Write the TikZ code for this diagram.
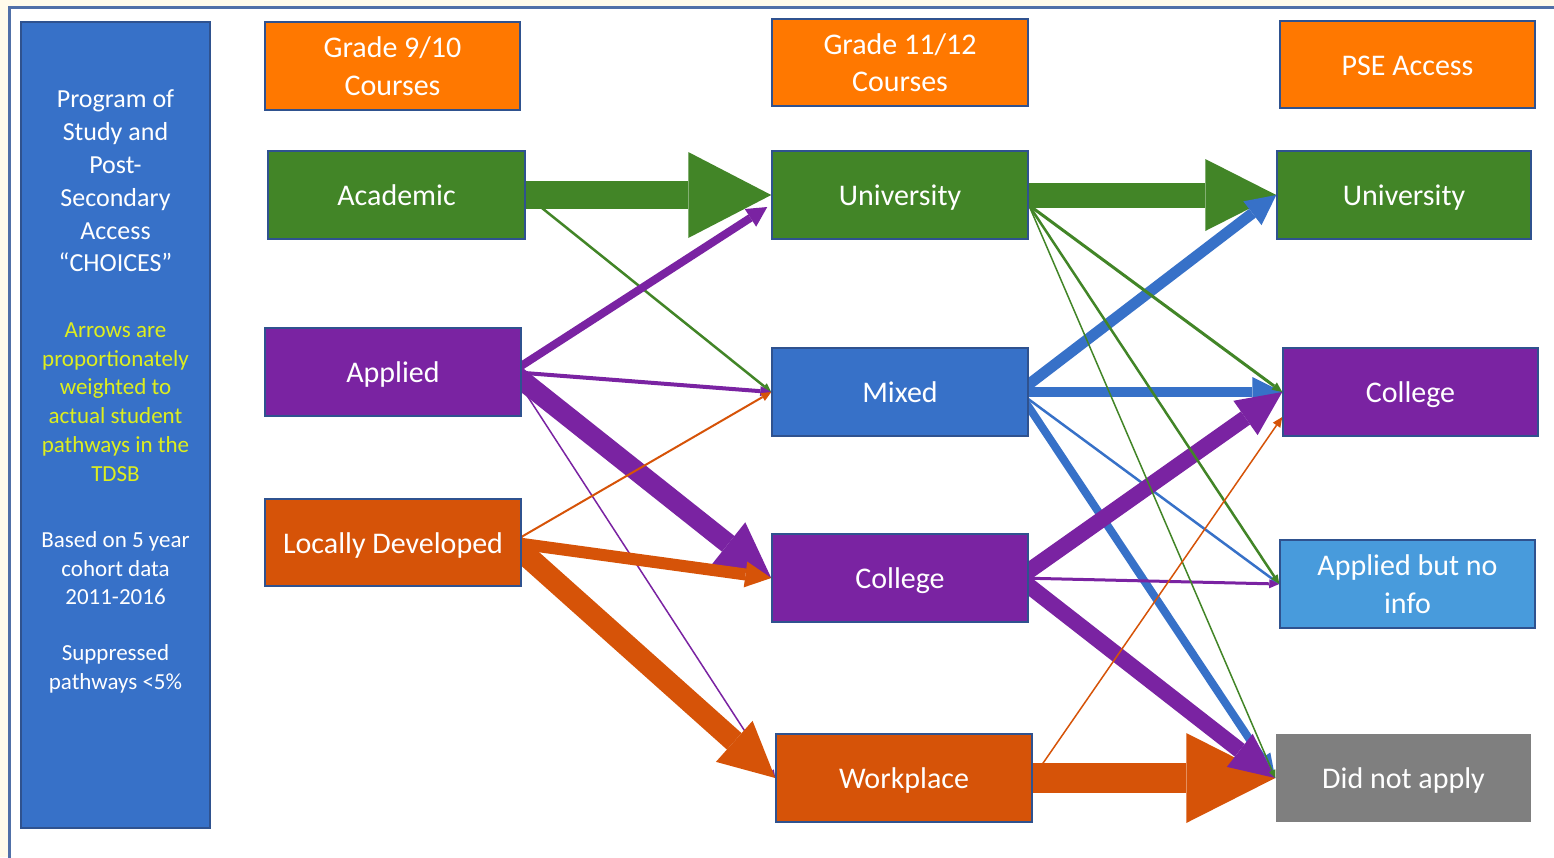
\documentclass[tikz,border=0pt]{standalone}
\usepackage{fontspec}
\setmainfont{Carlito}
\usetikzlibrary{arrows.meta}
\definecolor{hdr}{RGB}{255,120,0}
\definecolor{grn}{RGB}{66,133,39}
\definecolor{prp}{RGB}{122,35,162}
\definecolor{blu}{RGB}{55,113,200}
\definecolor{org}{RGB}{214,83,8}
\definecolor{lblu}{RGB}{72,155,220}
\definecolor{gry}{RGB}{127,127,127}
\definecolor{bord}{RGB}{47,82,143}
\definecolor{cream}{RGB}{255,251,235}
\definecolor{framec}{RGB}{80,112,168}
\definecolor{yel}{RGB}{222,238,30}
\newcommand{\boxstrutx}{\rule[-7.4pt]{0pt}{36pt}}
\pgfdeclarelayer{back}
\pgfdeclarelayer{bg}
\pgfsetlayers{back,bg,main}
\begin{document}
\begin{tikzpicture}[x=1pt,y=-1pt,
  box/.style={draw=bord,line width=1.5pt,minimum width=256pt,minimum height=88pt,inner sep=0pt,text=white,align=center,font=\fontsize{30}{37.5}\selectfont,execute at end node={\boxstrutx}},
  ptxt/.style={inner sep=0pt,align=center,text=white},
  ar/.style n args={4}{draw=#1,line width=#2,-{Triangle[length=#3,width=#4,line width=0pt]}},
]
\useasboundingbox (0,0) rectangle (1554,857);
\begin{pgfonlayer}{back}
\fill[cream] (0,0) rectangle (1554,857);
\draw[framec,line width=3.5pt,fill=white] (9.5,7.5) rectangle (1600,900);
\end{pgfonlayer}

% left panel
\node[box,fill=blu,minimum width=189pt,minimum height=806pt,execute at end node={}] (panel) at (115.5,425) {};
\node[ptxt,font=\fontsize{26}{32.8}\selectfont] (ptitle) at (115.5,181) {Program of\\Study and\\Post-\\Secondary\\Access\\“CHOICES”};
\node[ptxt,text=yel,font=\fontsize{23}{28.8}\selectfont] (pnote) at (115.5,402) {Arrows are\\proportionately\\weighted to\\actual student\\pathways in the\\TDSB};
\node[ptxt,font=\fontsize{23}{28.5}\selectfont] (pdata) at (115.5,568.5) {Based on 5 year\\cohort data\\2011-2016};
\node[ptxt,font=\fontsize{23}{29}\selectfont] (psupp) at (115.5,668.5) {Suppressed\\pathways <5\%};

% headers
\node[box,fill=hdr,minimum width=255pt] (g910) at (392.5,66) {\boxstrutx Grade 9/10\\Courses};
\node[box,fill=hdr,minimum height=87pt] (g1112) at (900,62.5) {\boxstrutx Grade 11/12\\Courses};
\node[box,fill=hdr,minimum width=255pt,minimum height=87pt] (pse) at (1407.5,64.5) {PSE Access};

% column 1
\node[box,fill=grn,minimum width=257pt] (acad) at (396.5,195) {Academic};
\node[box,fill=prp] (appl) at (393,372) {Applied};
\node[box,fill=org,minimum height=87pt] (locd) at (393,542.5) {Locally Developed};

% column 2
\node[box,fill=grn] (uni1) at (900,195) {University};
\node[box,fill=blu] (mixed) at (900,392) {Mixed};
\node[box,fill=prp] (coll1) at (900,578) {College};
\node[box,fill=org] (work) at (904,778) {Workplace};

% column 3
\node[box,fill=grn,minimum width=254pt] (uni2) at (1404,195) {University};
\node[box,fill=prp,minimum width=255pt] (coll2) at (1410.5,392) {College};
\node[box,fill=lblu,minimum width=255pt] (abni) at (1407.5,584) {\boxstrutx Applied but no\\info};
\node[box,fill=gry,draw=none,minimum width=255pt] (dna) at (1403.5,778) {Did not apply};

\begin{pgfonlayer}{bg}
% stage 1
\draw[ar={grn}{28pt}{83pt}{86pt}] ([xshift=-10pt]acad.east) -- (uni1.west);
\draw[ar={grn}{2.5pt}{9pt}{8pt}] (acad.east) -- (mixed.west);
\draw[ar={prp}{8pt}{20pt}{21pt}] ([xshift=-10pt]appl.east) -- ([shift={(-4,12)}]uni1.west);
\draw[ar={prp}{4pt}{11pt}{10pt}] ([xshift=-10pt]appl.east) -- (mixed.west);
\draw[ar={prp}{1.5pt}{8pt}{7pt}] ([xshift=-10pt]appl.east) -- (work.west);
\draw[ar={prp}{20pt}{55pt}{55pt}] ([xshift=-10pt]appl.east) -- (coll1.west);
\draw[ar={org}{2pt}{10pt}{9pt}] ([xshift=-10pt]locd.east) -- (mixed.west);
\draw[ar={org}{12pt}{26pt}{26pt}] ([xshift=-10pt]locd.east) -- (coll1.west);
\draw[ar={org}{22pt}{55pt}{55pt}] ([xshift=-10pt]locd.east) -- (work.west);
% stage 2
\draw[ar={grn}{25pt}{71pt}{72pt}] ([xshift=-10pt]uni1.east) -- (uni2.west);
\draw[ar={org}{30pt}{89pt}{90pt}] ([xshift=-10pt]work.east) -- (dna.west);
\draw[ar={blu}{11pt}{30pt}{30pt}] ([xshift=-10pt]mixed.east) -- (uni2.west);
\draw[ar={blu}{10pt}{30pt}{30pt}] ([xshift=-10pt]mixed.east) -- (coll2.west);
\draw[ar={blu}{2.5pt}{9pt}{8pt}] ([xshift=-10pt]mixed.east) -- (abni.west);
\draw[ar={blu}{8pt}{24pt}{20pt}] ([xshift=-10pt]mixed.east) -- (dna.west);
\draw[ar={prp}{16pt}{45pt}{42pt}] ([xshift=-10pt]coll1.east) -- (coll2.west);
\draw[ar={prp}{3pt}{10pt}{9pt}] ([xshift=-10pt]coll1.east) -- (abni.west);
\draw[ar={prp}{16pt}{45pt}{42pt}] ([xshift=-10pt]coll1.east) -- (dna.west);
\draw[ar={grn}{3pt}{10pt}{9pt}] ([yshift=-10pt]uni1.east) -- (coll2.west);
\draw[ar={grn}{2.5pt}{9pt}{8pt}] ([yshift=-10pt]uni1.east) -- (abni.west);
\draw[ar={grn}{1.5pt}{8pt}{7pt}] ([yshift=-10pt]uni1.east) -- (dna.west);
\draw[ar={org}{1.5pt}{10pt}{9pt}] (work.east) -- ([yshift=-25pt]coll2.west);
\end{pgfonlayer}
\end{tikzpicture}
\end{document}
